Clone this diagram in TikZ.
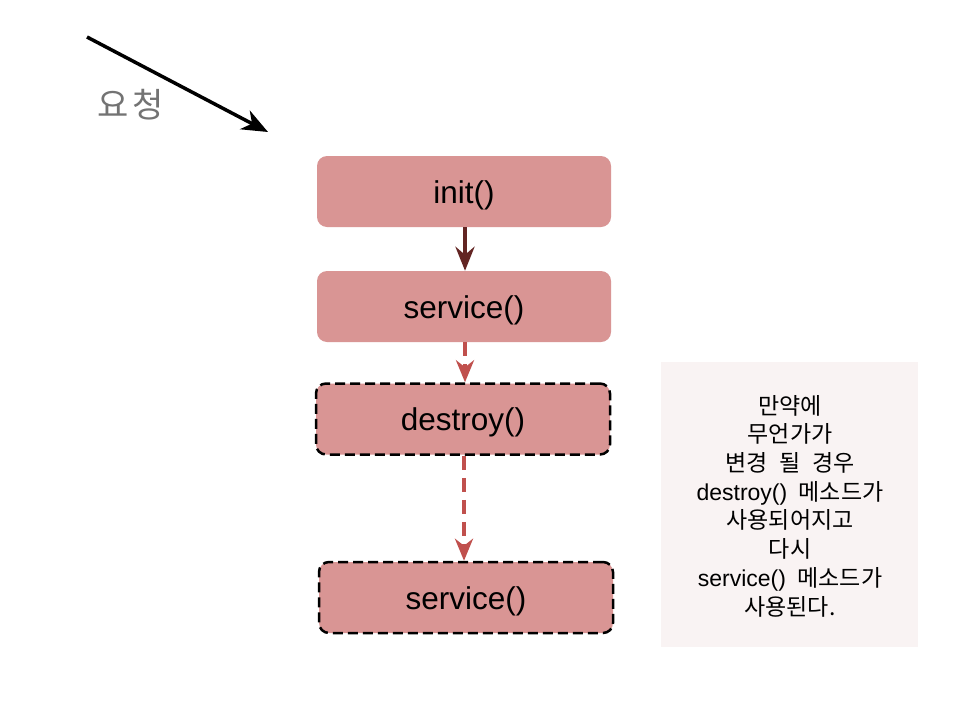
\documentclass[tikz,border=0pt]{standalone}
\usepackage{fontspec}
\setmainfont{Liberation Sans}
\newfontfamily\kr{Noto Sans CJK KR}
\usetikzlibrary{arrows.meta}
\definecolor{boxfill}{RGB}{217,149,148}
\definecolor{notefill}{RGB}{249,243,243}
\definecolor{dashred}{RGB}{192,80,77}
\definecolor{darkred}{RGB}{99,37,35}
\definecolor{labelgray}{RGB}{115,115,115}
\newcommand{\ks}{\hspace{0.5em}}
\tikzset{
  stepbox/.style={fill=boxfill, rounded corners=10pt, minimum width=294pt, minimum height=71pt, inner sep=0pt,
    font=\fontsize{31.5}{36}\selectfont, text height=28pt, text depth=4.8pt},
  dashedbox/.style={stepbox, draw=black, line width=2.5pt, dash pattern=on 10pt off 5pt},
  solidflow/.style={draw=darkred, line width=4pt, -{Stealth[length=24pt,width=19pt,inset=8pt]}},
  dashflow/.style={draw=dashred, line width=4pt, dash pattern=on 14pt off 8pt, -{Stealth[length=22pt,width=18pt,inset=7pt]}},
  reqflow/.style={draw=black, line width=3.5pt, -{Stealth[length=26pt,width=21pt,inset=8pt]}},
  notebox/.style={fill=notefill, minimum width=257pt, minimum height=285pt, inner sep=0pt},
  notetext/.style={align=center, font=\fontsize{23}{28.7}\selectfont}
}
\begin{document}
\begin{tikzpicture}[x=1pt,y=-1pt]
\useasboundingbox (0,0) rectangle (960,720);
\fill[white] (0,0) rectangle (960,720);
% request arrow
\coordinate (reqstart) at (87,37);
\coordinate (reqend) at (268,132);
\draw[reqflow] (reqstart) -- (reqend);
\node[text=labelgray, font=\kr\fontsize{34}{38}\selectfont] (req) at (131,105) {요\hspace{4pt}청};
% boxes
\node[stepbox] (init) at (464,191.5) {init()};
\node[stepbox] (svc1) at (464,306.5) {service()};
\node[dashedbox] (destroy) at (463,419) {destroy()};
\node[dashedbox] (svc2) at (466,597.5) {service()};
% connectors
\draw[solidflow] (init.south -| 465,0) -- (svc1.north -| 465,0);
\draw[dashflow] (svc1.south -| 465,0) -- (destroy.north -| 465,0);
\draw[dashflow] (destroy.south -| 464,0) -- (svc2.north -| 464,0);
% note
\node[notebox] (note) at (789.5,504.5) {};
\node[notetext] (notetxt) at (790,506) {{\kr 만약에}\\{\kr 무언가가}\\{\kr 변경\ks 될\ks 경우}\\destroy()\ks{\kr 메소드가}\\{\kr 사용되어지고}\\{\kr 다시}\\service()\ks{\kr 메소드가}\\{\kr 사용된다.}};
\end{tikzpicture}
\end{document}
